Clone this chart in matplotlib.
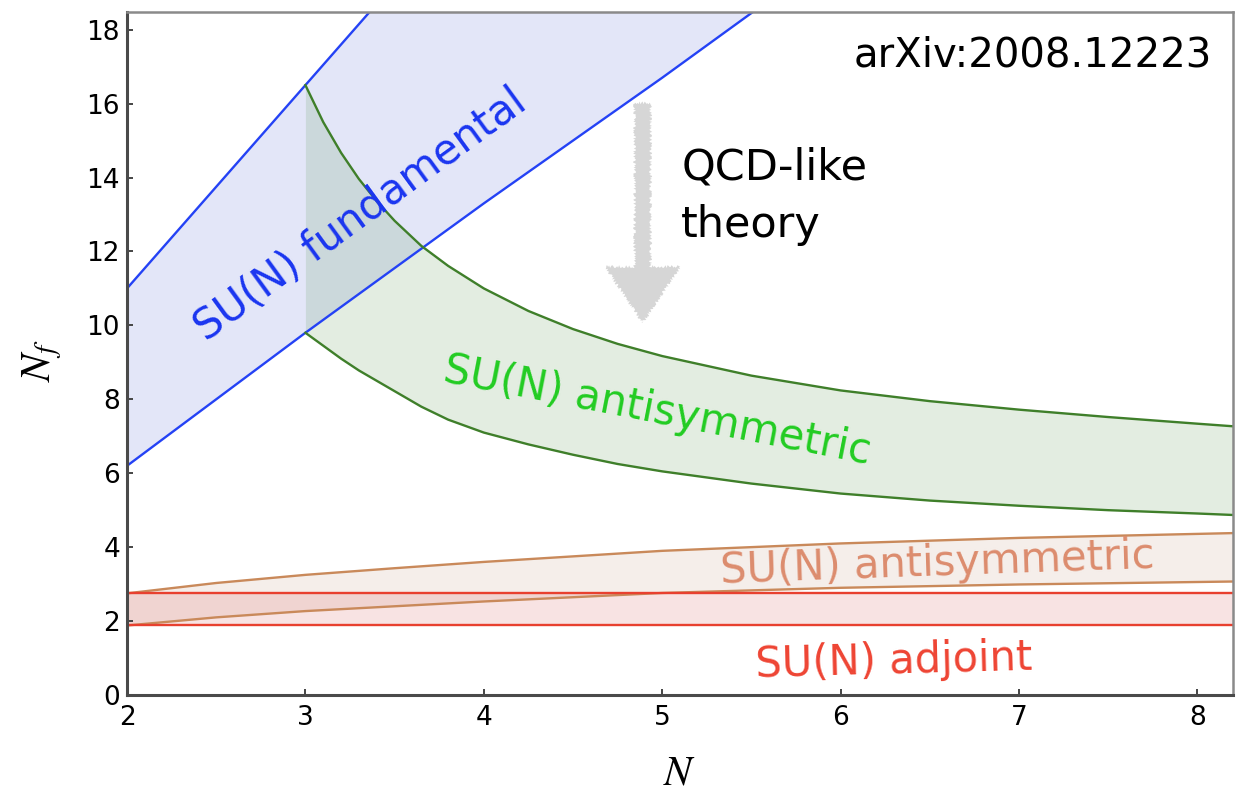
import matplotlib
matplotlib.use("Agg")
import matplotlib.pyplot as plt
from matplotlib.patches import FancyArrow
import numpy as np

plt.rcParams['mathtext.fontset'] = 'stix'
plt.rcParams['font.family'] = ['DejaVu Sans']

# SU(N) fundamental band
N_fund = [2.0, 3.0, 4.0, 5.0, 5.6]
fund_upper = [11.0, 16.5, 22.0, 27.5, 30.8]
fund_lower = [6.2, 9.8, 13.3, 16.7, 18.8]

# SU(N) antisymmetric (upper band)
N_as = [3.0, 3.1, 3.2, 3.3, 3.4, 3.5, 3.65, 3.8, 4.0, 4.25, 4.5, 4.75,
        5.0, 5.5, 6.0, 6.5, 7.0, 7.5, 8.0, 8.2]
as_upper = [16.5, 15.5, 14.67, 13.96, 13.36, 12.83, 12.15, 11.61, 11.0, 10.39,
            9.9, 9.5, 9.17, 8.64, 8.24, 7.95, 7.72, 7.52, 7.34, 7.27]
as_lower = [9.8, 9.45, 9.1, 8.78, 8.5, 8.22, 7.8, 7.45, 7.1, 6.78,
            6.5, 6.25, 6.05, 5.72, 5.45, 5.26, 5.12, 5.0, 4.91, 4.87]

# SU(N) antisymmetric (lower band)
N_as2 = [2.0, 2.5, 3.0, 3.5, 4.0, 5.0, 6.0, 7.0, 8.2]
as2_upper = [2.75, 3.03, 3.25, 3.43, 3.6, 3.9, 4.1, 4.25, 4.38]
as2_lower = [1.88, 2.1, 2.27, 2.4, 2.53, 2.76, 2.9, 2.99, 3.07]

# SU(N) adjoint
N_adj = [2.0, 8.2]
adj_upper = [2.75, 2.75]
adj_lower = [1.88, 1.88]

# arrow towards QCD-like theory
arrow_N = 4.89
arrow_top = 16.02
arrow_tip = 10.07

fig = plt.figure(figsize=(12.44, 7.92), dpi=100)
ax = fig.add_axes([0.1021, 0.1225, 0.8891, 0.8624])

ax.fill_between(N_fund, fund_lower, fund_upper, color=(30/255, 50/255, 200/255), alpha=0.12, lw=0)
ax.fill_between(N_as, as_lower, as_upper, color=(30/255, 115/255, 15/255), alpha=0.12, lw=0)
ax.fill_between(N_as2, as2_lower, as2_upper, color=(175/255, 120/255, 85/255), alpha=0.12, lw=0)
ax.fill_between(N_adj, adj_lower, adj_upper, color=(205/255, 30/255, 30/255), alpha=0.12, lw=0)

ax.plot(N_fund, fund_upper, color='#2442f5', lw=1.7)
ax.plot(N_fund, fund_lower, color='#2442f5', lw=1.7)
ax.plot(N_as, as_upper, color='#3f7f2a', lw=1.7)
ax.plot(N_as, as_lower, color='#3f7f2a', lw=1.7)
ax.plot(N_as2, as2_upper, color='#c9895a', lw=1.7)
ax.plot(N_as2, as2_lower, color='#c9895a', lw=1.7)
ax.plot(N_adj, adj_upper, color='#e8402f', lw=1.7)
ax.plot(N_adj, adj_lower, color='#e8402f', lw=1.7)

arr = FancyArrow(arrow_N, arrow_top, 0, arrow_tip - arrow_top, width=0.09,
                 head_width=0.42, head_length=1.52, length_includes_head=True,
                 color='#d6d6d6', lw=0)
arr.set_sketch_params(scale=1.5, length=3, randomness=3)
ax.add_patch(arr)

ax.text(3.31, 12.99, 'SU(N) fundamental', color='#1a35f0', fontsize=30,
        rotation=36, ha='center', va='center')
ax.text(4.97, 7.69, 'SU(N) antisymmetric', color='#22cc22', fontsize=30,
        rotation=-11, ha='center', va='center')
ax.text(6.54, 3.55, 'SU(N) antisymmetric', color='#dc8c6e', fontsize=30,
        rotation=2, ha='center', va='center')
ax.text(6.30, 0.9, 'SU(N) adjoint', color='#ee4433', fontsize=30,
        rotation=1.5, ha='center', va='center')
ax.text(5.107, 13.94, 'QCD-like', color='black', fontsize=31, va='baseline')
ax.text(5.107, 12.40, 'theory', color='black', fontsize=31, va='baseline')
ax.text(8.084, 17.0, 'arXiv:2008.12223', color='black', fontsize=29,
        ha='right', va='baseline')

ax.set_xlim(2, 8.2)
ax.set_ylim(0, 18.48)
ax.set_xticks(np.arange(2, 9, 1))
ax.set_yticks(np.arange(0, 19, 2))
ax.tick_params(direction='in', length=4.5, width=1.4, color='#444444',
               labelsize=19, top=False, right=False)
ax.tick_params(axis='x', pad=7)
ax.tick_params(axis='y', pad=5)

for side in ['left', 'bottom']:
    ax.spines[side].set_color('#4a4a4a')
    ax.spines[side].set_linewidth(2.2)
for side in ['top', 'right']:
    ax.spines[side].set_color('#8a8a8a')
    ax.spines[side].set_linewidth(1.8)

ax.set_xlabel('$N$', fontsize=30, va='center', ha='center')
ax.set_ylabel('$N_f$', fontsize=30, va='center', ha='center')
ax.xaxis.set_label_coords(0.5, -0.114)
ax.yaxis.set_label_coords(-0.077, 0.49)

fig.savefig('out.png', dpi=100)
